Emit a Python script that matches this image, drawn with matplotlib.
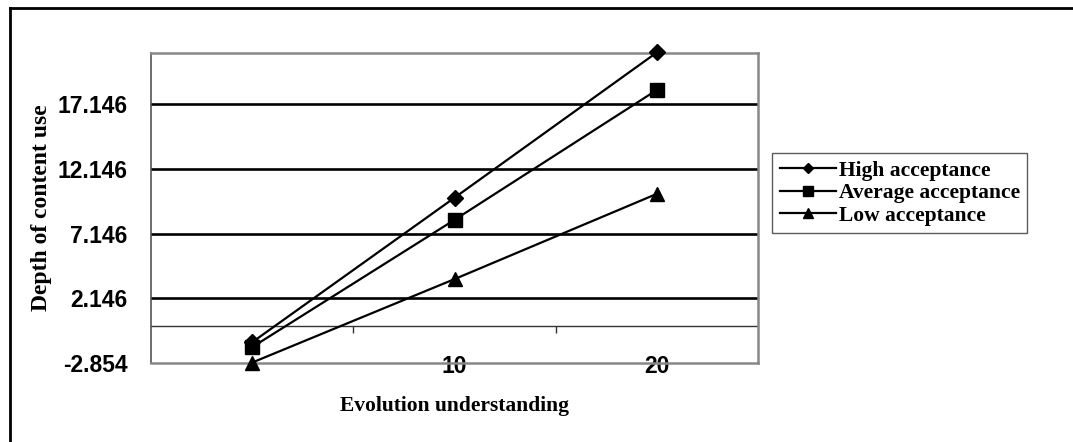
"""
Depth of content use vs evolution understanding, three acceptance groups.
"""

# ---------------------------------------------------------------------------- #
# NEEDED IMPORTS

import matplotlib
matplotlib.use("Agg")
import matplotlib.pyplot as plt
from matplotlib.lines import Line2D

# ---------------------------------------------------------------------------- #
# DATA

understanding = [0, 10, 20]
high_acceptance = [-1.25, 9.92, 21.15]
average_acceptance = [-1.63, 8.21, 18.25]
low_acceptance = [-2.82, 3.63, 10.22]

series_names = ["High acceptance", "Average acceptance", "Low acceptance"]
series_markers = ["D", "s", "^"]

y_ticks = [-2.854, 2.146, 7.146, 12.146, 17.146]
y_tick_labels = ["-2.854", "2.146", "7.146", "12.146", "17.146"]
x_ticks = [10, 20]
x_tick_labels = ["10", "20"]
x_minor_ticks = [5, 15]

# ---------------------------------------------------------------------------- #
# FIGURE

fig = plt.figure(figsize=(10.73, 4.42), dpi=100)
ax = fig.add_axes([151 / 1073, 1 - 363 / 442, 607 / 1073, 310.5 / 442])

ymin, ymax = -2.854, 21.146
ax.set_xlim(-5, 25)
ax.set_ylim(ymin, ymax)

# Gridlines (black, thick, like the Excel chart)
for y in y_ticks[1:]:
    ax.axhline(y, color="black", lw=1.9, zorder=1)

# Category axis crossing at zero
ax.axhline(0, color="#333333", lw=1.0, zorder=1)
zero_loc = (0 - ymin) / (ymax - ymin)
sec = ax.secondary_xaxis(zero_loc)
sec.set_xticks(x_minor_ticks)
sec.set_xticklabels([])
sec.tick_params(axis="x", direction="out", length=5, width=1, color="#333333")
sec.spines["bottom"].set_visible(False)

# Series
all_series = [high_acceptance, average_acceptance, low_acceptance]
sizes = [8, 10, 10]
for values, name, marker, ms in zip(all_series, series_names, series_markers, sizes):
    ax.plot(understanding, values, color="black", lw=1.6, marker=marker,
            markersize=ms, markerfacecolor="black", markeredgecolor="black",
            label=name, zorder=3, clip_on=False)

# Spines
for side in ["top", "right", "bottom"]:
    ax.spines[side].set_color("#888888")
    ax.spines[side].set_linewidth(1.8)
ax.spines["left"].set_color("#555555")
ax.spines["left"].set_linewidth(1.2)

# Ticks
tick_font = {"family": "Liberation Sans", "weight": "bold", "size": 16.5}
ax.set_yticks(y_ticks)
ax.set_yticklabels(y_tick_labels, fontdict=tick_font)
ax.set_xticks(x_ticks)
ax.set_xticklabels(x_tick_labels, fontdict=tick_font)
ax.tick_params(axis="y", length=0, pad=17)
ax.tick_params(axis="x", length=0, pad=-6)

# Axis labels
ax.set_ylabel("Depth of content use",
              fontdict={"family": "Liberation Serif", "weight": "bold", "size": 17})
ax.yaxis.set_label_coords(-0.163, 0.5)
ax.set_xlabel("Evolution understanding",
              fontdict={"family": "Liberation Serif", "weight": "bold", "size": 15.5})
ax.xaxis.set_label_coords(0.5, -0.105)

# Legend
leg = fig.legend(loc="upper left", bbox_to_anchor=(772 / 1073, 1 - 153 / 442),
                 borderaxespad=0, frameon=True, fancybox=False,
                 prop={"family": "Liberation Serif", "weight": "bold", "size": 15.5},
                 handlelength=2.6, handletextpad=0.15, labelspacing=0.12,
                 borderpad=0.35, markerscale=0.7)
leg.get_frame().set_edgecolor("#333333")
leg.get_frame().set_linewidth(1.0)

# Outer chart frame (only top and left edges are visible)
fig.add_artist(Line2D([10 / 1073, 1.0], [1 - 8 / 442, 1 - 8 / 442],
                      color="black", lw=2, transform=fig.transFigure))
fig.add_artist(Line2D([10 / 1073, 10 / 1073], [0.0, 1 - 8 / 442],
                      color="black", lw=2, transform=fig.transFigure))

fig.savefig("out.png", dpi=100)

# end of file #
